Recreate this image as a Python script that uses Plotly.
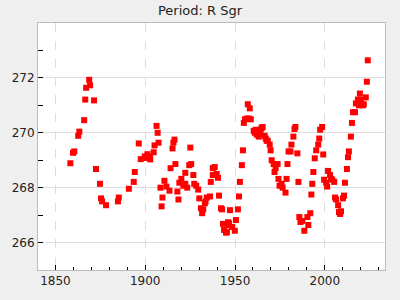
import plotly.graph_objects as go

years = [
    1858.3, 1859.8, 1860.5, 1862.7, 1863.3, 1866.0, 1866.6, 1867.1, 1868.8, 1869.3,
    1871.5, 1872.6, 1874.8, 1875.4, 1876.0, 1878.2, 1884.8, 1885.3, 1890.9, 1893.6,
    1894.2, 1896.4, 1897.5, 1899.7, 1900.6, 1901.2, 1902.6, 1902.8, 1904.7, 1905.2,
    1906.3, 1906.9, 1907.4, 1908.5, 1909.1, 1909.6, 1910.7, 1911.8, 1913.5, 1914.1,
    1915.2, 1915.7, 1916.3, 1916.8, 1917.9, 1918.5, 1919.0, 1920.1, 1921.2, 1922.3,
    1922.3, 1923.4, 1924.5, 1925.1, 1925.6, 1926.8, 1927.3, 1928.4, 1929.5, 1930.1,
    1931.0, 1931.7, 1932.3, 1933.2, 1933.6, 1934.3, 1936.1, 1936.5, 1937.6, 1937.6,
    1938.7, 1939.8, 1940.5, 1941.1, 1942.2, 1942.8, 1943.3, 1943.9, 1945.0, 1945.5,
    1946.1, 1946.5, 1946.6, 1947.2, 1948.3, 1949.9, 1950.5, 1951.6, 1952.2, 1952.7,
    1953.8, 1954.4, 1954.9, 1955.5, 1956.6, 1957.1, 1957.7, 1958.2, 1958.8, 1960.4,
    1961.0, 1961.5, 1962.1, 1962.6, 1963.2, 1963.7, 1964.3, 1964.8, 1965.4, 1966.5,
    1967.1, 1967.6, 1968.2, 1969.3, 1969.8, 1970.4, 1971.5, 1972.0, 1972.6, 1973.7,
    1974.2, 1974.8, 1975.9, 1976.5, 1978.1, 1978.7, 1979.2, 1979.8, 1980.9, 1981.4,
    1982.5, 1983.1, 1983.6, 1984.7, 1985.3, 1985.8, 1986.4, 1987.5, 1988.6, 1990.3,
    1990.8, 1991.9, 1992.5, 1993.0, 1993.6, 1994.4, 1995.2, 1996.3, 1996.9, 1997.4,
    1998.5, 1999.1, 1999.6, 2000.7, 2001.3, 2001.8, 2002.9, 2003.5, 2004.1, 2005.2,
    2005.7, 2006.3, 2007.4, 2007.9, 2008.5, 2009.0, 2010.1, 2010.7, 2011.2, 2012.3,
    2012.9, 2013.4, 2014.5, 2015.1, 2015.7, 2016.8, 2017.3, 2018.4, 2019.0, 2019.5,
    2020.1, 2021.2, 2021.7, 2022.8, 2023.4, 2023.9,
]
periods = [
    268.89, 269.27, 269.32, 269.89, 270.04, 270.46, 271.21, 271.64, 271.93, 271.73,
    271.18, 268.68, 268.14, 267.61, 267.50, 267.36, 267.50, 267.64, 267.96, 268.21,
    268.57, 269.61, 269.04, 269.14, 269.08, 269.22, 269.15, 269.03, 269.29, 269.54,
    270.25, 270.00, 269.64, 268.00, 267.32, 267.64, 268.25, 268.04, 267.89, 268.71,
    269.43, 269.64, 269.75, 268.86, 267.86, 267.57, 268.18, 268.32, 268.07, 268.54,
    268.14, 268.00, 268.82, 269.46, 268.86, 268.46, 268.14, 268.07, 267.93, 267.61,
    267.25, 267.07, 267.21, 267.43, 267.50, 267.64, 267.68, 268.21, 268.46, 268.71,
    268.75, 268.50, 268.36, 267.71, 267.25, 267.21, 266.68, 266.46, 266.36, 266.38,
    266.74, 266.63, 266.71, 267.18, 266.57, 266.43, 266.82, 267.21, 267.68, 268.21,
    268.82, 269.36, 270.36, 270.49, 270.52, 271.04, 270.52, 270.89, 270.49, 270.07,
    270.00, 270.11, 269.93, 270.07, 269.86, 269.96, 270.11, 270.18, 270.21, 269.89,
    269.79, 269.71, 269.71, 269.57, 269.36, 269.00, 268.86, 268.57, 268.71, 268.86,
    268.32, 268.07, 268.14, 268.00, 267.82, 268.32, 268.86, 269.32, 269.32, 269.57,
    269.86, 270.14, 270.21, 269.25, 268.21, 266.93, 266.75, 266.79, 266.43, 266.93,
    266.64, 267.07, 267.75, 268.14, 268.57, 269.07, 269.36, 269.57, 269.79, 270.11,
    270.21, 269.21, 268.29, 268.18, 268.04, 268.61, 268.46, 268.32, 268.29, 268.21,
    267.64, 267.57, 267.36, 267.11, 267.04, 267.14, 267.61, 267.71, 268.18, 268.68,
    269.11, 269.32, 269.86, 270.36, 270.75, 270.75, 271.07, 271.21, 271.00, 271.43,
    271.21, 271.00, 271.04, 271.29, 271.86, 272.64,
]

x_ticks = [1850, 1900, 1950, 2000]
y_ticks = [266, 268, 270, 272]

fig = go.Figure(go.Scatter(
    x=years, y=periods, mode="markers",
    marker=dict(symbol="square", size=6, color="#ff0000", line=dict(width=0)),
    hoverinfo="x+y",
))

axis_common = dict(
    showline=True, linecolor="#bbbbbb", linewidth=1, mirror=True,
    ticks="inside", ticklen=5, tickcolor="black", tickwidth=1,
    zeroline=False, tickfont=dict(family="DejaVu Sans", size=12, color="#222"),
)

fig.update_layout(
    width=400, height=300,
    margin=dict(l=35, r=15, t=23, b=25),
    paper_bgcolor="#efefef", plot_bgcolor="white",
    showlegend=False,
    title=dict(text="Period: R Sgr", x=0.5, xanchor="center", y=0.965, yanchor="middle",
               font=dict(family="DejaVu Sans", size=13, color="#222")),
    xaxis=dict(range=[1840.3, 2033.5], tickvals=x_ticks,
               showgrid=True, gridcolor="#dddddd", griddash="dash", gridwidth=1,
               minor=dict(dtick=10, tick0=1850, ticks="inside", ticklen=3,
                          tickcolor="black", showgrid=False),
               **axis_common),
    yaxis=dict(range=[265, 274], tickvals=y_ticks,
               showgrid=True, gridcolor="#dddddd", gridwidth=1,
               minor=dict(dtick=1, tick0=265, ticks="inside", ticklen=5,
                          tickcolor="black", showgrid=False),
               **axis_common),
)

fig.write_html("out.html")
